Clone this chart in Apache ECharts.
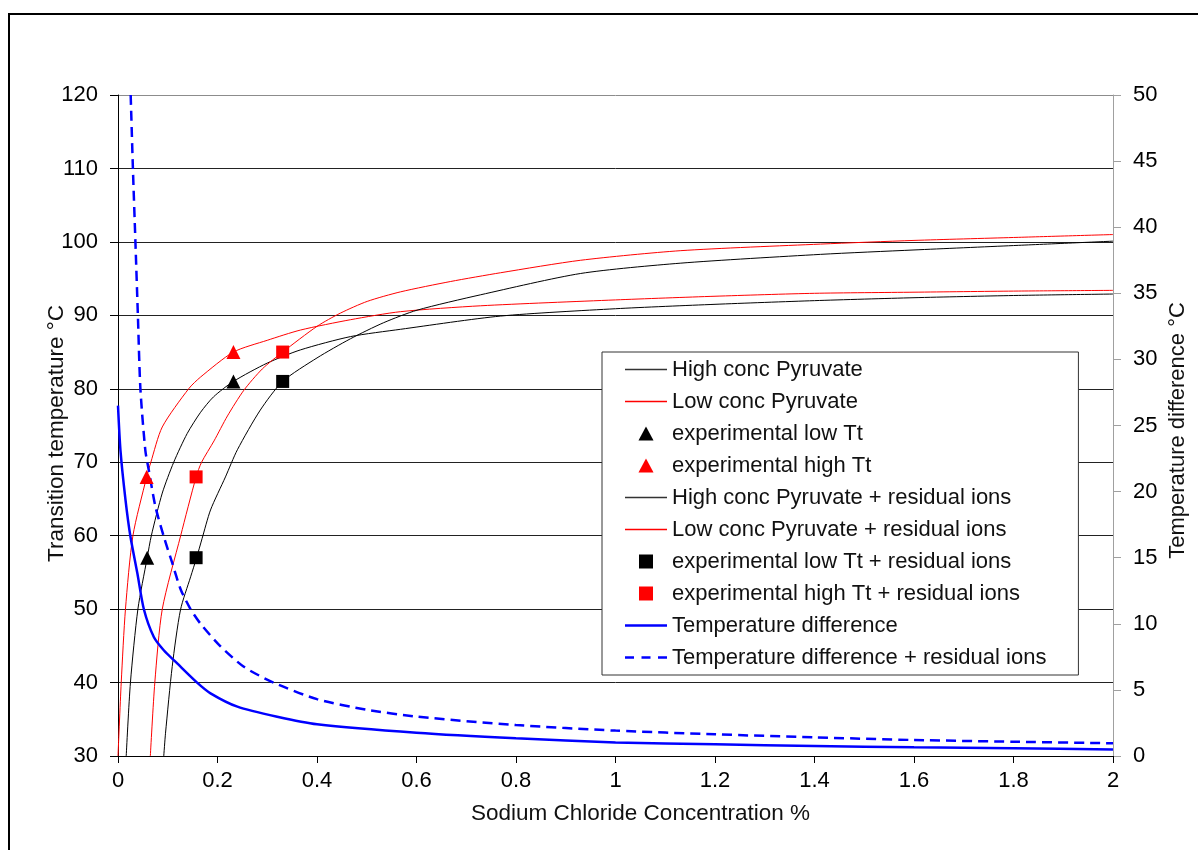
<!DOCTYPE html>
<html>
<head>
<meta charset="utf-8">
<script src="https://cdn.jsdelivr.net/npm/echarts@6/dist/echarts.min.js"></script>
<style>
  html, body { margin: 0; padding: 0; background: #fff; }
  #chart { width: 1198px; height: 850px; }
</style>
</head>
<body>
<div id="chart"></div>
<script>
// NaCl concentration (%) vs transition temperature (°C)
const highConcX = [0.0165, 0.025, 0.040, 0.0587, 0.067, 0.089, 0.112, 0.139, 0.166, 0.192, 0.232, 0.30, 0.367, 0.467, 0.568, 0.769, 1.0, 1.2, 1.4, 1.6, 1.8, 2.0]
const highConcY = [30, 40, 50, 57, 60, 65.8, 70, 73.9, 76.8, 78.9, 81, 83.5, 85.3, 87.1, 88.1, 89.9, 90.9, 91.5, 92.0, 92.4, 92.7, 92.9]

const lowConcX = [0, 0.0065, 0.015, 0.030, 0.0576, 0.066, 0.089, 0.142, 0.166, 0.232, 0.30, 0.367, 0.467, 0.568, 0.729, 1.0, 1.2, 1.4, 1.6, 1.8, 2.0]
const lowConcY = [30, 40, 50, 60, 68, 70, 74.8, 80, 81.6, 85, 86.6, 88, 89.4, 90.5, 91.3, 92.1, 92.6, 93.0, 93.15, 93.3, 93.4]

const highResX = [0.092, 0.0955, 0.109, 0.1256, 0.146, 0.158, 0.169, 0.186, 0.216, 0.24, 0.286, 0.331, 0.40, 0.467, 0.534, 0.601, 0.729, 0.93, 1.13, 1.412, 1.6, 1.8, 2.0]
const highResY = [30, 33.1, 42.2, 49.9, 54.4, 57, 59.6, 63.5, 68.0, 71.7, 77.1, 81, 84.2, 86.8, 89.0, 90.7, 92.8, 95.7, 97.1, 98.3, 98.9, 99.5, 100.1]

const lowResX = [0.065, 0.074, 0.089, 0.126, 0.157, 0.168, 0.193, 0.22, 0.253, 0.29, 0.331, 0.40, 0.447, 0.501, 0.568, 0.668, 0.769, 0.93, 1.13, 1.412, 1.6, 1.8, 2.0]
const lowResY = [30, 40, 50, 60, 68, 70, 72.9, 76.3, 79.8, 82.7, 85, 88.5, 90.3, 91.9, 93.2, 94.6, 95.8, 97.5, 98.8, 99.7, 100.2, 100.6, 101.0]

// experimental points
const expLowX = [0.0587, 0.232]
const expLowY = [57, 81]
const expHighX = [0.0576, 0.232]
const expHighY = [68, 85]
const expLowResX = [0.157, 0.331]
const expLowResY = [57, 81]
const expHighResX = [0.157, 0.331]
const expHighResY = [68, 85]

// temperature difference (right axis)
const diffX = [0, 0.005, 0.015, 0.025, 0.039, 0.052, 0.072, 0.092, 0.119, 0.159, 0.186, 0.24, 0.32, 0.4, 0.6, 0.8, 1.0, 1.2, 1.4, 1.6, 1.8, 2.0]
const diffY = [26.5, 23.1, 19.4, 16.6, 13.8, 11.1, 9.0, 8.0, 7.0, 5.55, 4.74, 3.73, 2.97, 2.4, 1.76, 1.34, 1.03, 0.88, 0.76, 0.66, 0.58, 0.5]

const diffResX = [0.0255, 0.030, 0.035, 0.040, 0.045, 0.055, 0.062, 0.075, 0.092, 0.109, 0.126, 0.146, 0.166, 0.206, 0.253, 0.313, 0.4, 0.5, 0.6, 0.8, 1.0, 1.2, 1.4, 1.6, 1.8, 2.0]
const diffResY = [50, 44.4, 38.9, 33.3, 27.8, 23.1, 21.6, 18.9, 16.6, 14.6, 12.6, 11.1, 10.0, 8.3, 6.75, 5.55, 4.3, 3.5, 2.98, 2.34, 1.92, 1.64, 1.41, 1.21, 1.08, 0.96]

const zip = (xs, ys) => xs.map((x, i) => [x, ys[i]])

const FONT = "'Liberation Sans', Arial, sans-serif"
const BLACK = '#000'
const RED = '#ff0000'
const BLUE = '#0000ff'

// legend icons as paths so they keep their own proportions
const TRI_ICON = 'path://M0,13L7,0L14,13Z'
const SQR_ICON = 'path://M0,0L13,0L13,13L0,13Z'
const THIN_ICON = 'path://M0,0L42,0L42,1.4L0,1.4Z'
const THICK_ICON = 'path://M0,0L42,0L42,2.5L0,2.5Z'
const DASH_ICON = 'path://M0,0L9,0L9,2.5L0,2.5Z M16.5,0L25.5,0L25.5,2.5L16.5,2.5Z M33,0L42,0L42,2.5L33,2.5Z'

function curve(name, xs, ys, color, extra) {
  return Object.assign({
    name,
    type: 'line',
    data: zip(xs, ys),
    smooth: 0.25,
    symbol: 'none',
    showSymbol: false,
    lineStyle: { color, width: 1 },
    itemStyle: { color },
    z: 2,
  }, extra || {})
}

function points(name, xs, ys, color, symbol) {
  return {
    name,
    type: 'scatter',
    data: zip(xs, ys),
    symbol,
    symbolSize: symbol === 'triangle' ? 14 : 13,
    itemStyle: { color, opacity: 1 },
    z: 4,
  }
}

function legendItem(name, icon, color) {
  return { name, icon, itemStyle: { color, borderWidth: 0, opacity: 1 } }
}

const chart = echarts.init(document.getElementById('chart'))

chart.setOption({
  backgroundColor: '#fff',
  animation: false,
  textStyle: { fontFamily: FONT },
  graphic: [{
    type: 'rect',
    shape: { x: 9, y: 14, width: 1400, height: 1000 },
    style: { fill: 'none', stroke: '#000', lineWidth: 2 },
    silent: true,
  }],
  grid: { left: 118, right: 85, top: 95, bottom: 94 },
  legend: {
    orient: 'vertical',
    left: 602,
    top: 352,
    padding: [6.5, 32, 6.5, 23],
    itemWidth: 42,
    itemHeight: 14,
    itemGap: 10,
    symbolKeepAspect: true,
    backgroundColor: '#fff',
    borderColor: '#333',
    borderWidth: 1,
    textStyle: { fontFamily: FONT, fontSize: 22, lineHeight: 22, color: '#111' },
    data: [
      legendItem('High conc Pyruvate', THIN_ICON, '#333'),
      legendItem('Low conc Pyruvate', THIN_ICON, RED),
      legendItem('experimental low Tt', TRI_ICON, BLACK),
      legendItem('experimental high Tt', TRI_ICON, RED),
      legendItem('High conc Pyruvate + residual ions', THIN_ICON, '#333'),
      legendItem('Low conc Pyruvate + residual ions', THIN_ICON, RED),
      legendItem('experimental low Tt + residual ions', SQR_ICON, BLACK),
      legendItem('experimental high Tt + residual ions', SQR_ICON, RED),
      legendItem('Temperature difference', THICK_ICON, BLUE),
      legendItem('Temperature difference + residual ions', DASH_ICON, BLUE),
    ],
  },
  xAxis: {
    type: 'value',
    min: 0,
    max: 2,
    interval: 0.2,
    name: 'Sodium Chloride Concentration %',
    nameLocation: 'middle',
    nameGap: 46,
    nameMoveOverlap: false,
    nameTextStyle: { fontFamily: FONT, fontSize: 22.5, color: '#111', padding: [0, 0, 0, 50] },
    axisLine: { show: true, lineStyle: { color: BLACK, width: 1 } },
    axisTick: { show: true, inside: false, length: 7, lineStyle: { color: BLACK } },
    axisLabel: { fontFamily: FONT, fontSize: 22, color: '#000', margin: 14 },
    splitLine: { show: false },
  },
  yAxis: [{
    type: 'value',
    min: 30,
    max: 120,
    interval: 10,
    name: 'Transition temperature °C',
    nameLocation: 'middle',
    nameRotate: 90,
    nameGap: 50,
    nameMoveOverlap: false,
    nameTextStyle: { fontFamily: FONT, fontSize: 22.5, color: '#111', padding: [0, 16, 0, 0] },
    axisLine: { show: true, lineStyle: { color: BLACK, width: 1 } },
    axisTick: { show: true, inside: false, length: 8, lineStyle: { color: BLACK } },
    axisLabel: { fontFamily: FONT, fontSize: 22, color: '#000', margin: 20 },
    splitLine: {
      show: true,
      lineStyle: {
        color: ['#222', '#222', '#222', '#222', '#222', '#222', '#222', '#222', '#222', '#8c8c8c'],
        width: 1,
      },
    },
  }, {
    type: 'value',
    min: 0,
    max: 50,
    interval: 5,
    position: 'right',
    name: 'Temperature difference °C',
    nameLocation: 'middle',
    nameRotate: 90,
    nameGap: 54,
    nameMoveOverlap: false,
    nameTextStyle: { fontFamily: FONT, fontSize: 22, color: '#111', padding: [0, 10, 0, 0] },
    axisLine: { show: true, lineStyle: { color: '#a0a0a0', width: 1 } },
    axisTick: { show: true, inside: false, length: 8, lineStyle: { color: '#a0a0a0' } },
    axisLabel: { fontFamily: FONT, fontSize: 22, color: '#000', margin: 20 },
    splitLine: { show: false },
  }],
  series: [
    curve('High conc Pyruvate', highConcX, highConcY, BLACK),
    curve('Low conc Pyruvate', lowConcX, lowConcY, RED),
    points('experimental low Tt', expLowX, expLowY, BLACK, 'triangle'),
    points('experimental high Tt', expHighX, expHighY, RED, 'triangle'),
    curve('High conc Pyruvate + residual ions', highResX, highResY, BLACK),
    curve('Low conc Pyruvate + residual ions', lowResX, lowResY, RED),
    points('experimental low Tt + residual ions', expLowResX, expLowResY, BLACK, 'rect'),
    points('experimental high Tt + residual ions', expHighResX, expHighResY, RED, 'rect'),
    curve('Temperature difference', diffX, diffY, BLUE, {
      yAxisIndex: 1,
      lineStyle: { color: BLUE, width: 2.5 },
      z: 3,
    }),
    curve('Temperature difference + residual ions', diffResX, diffResY, BLUE, {
      yAxisIndex: 1,
      lineStyle: { color: BLUE, width: 2.5, type: [10, 6] },
      z: 3,
    }),
  ],
})
</script>
</body>
</html>
